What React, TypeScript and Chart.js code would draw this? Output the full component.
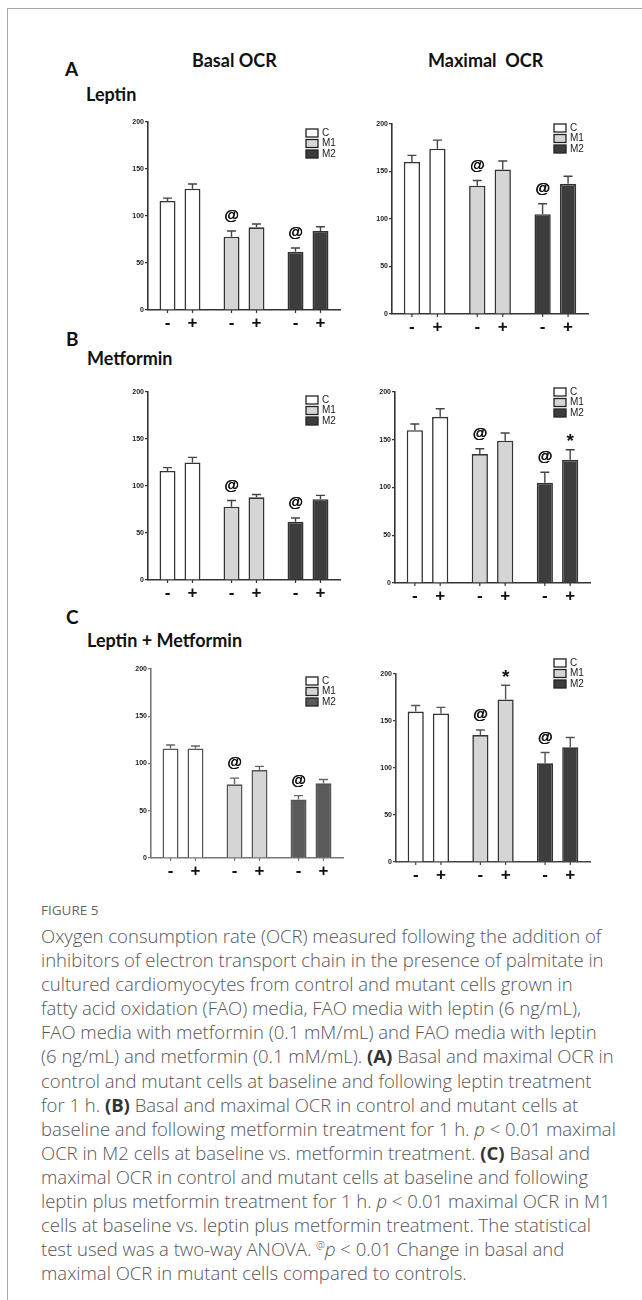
import React, { useEffect, useRef } from 'react';
import { Chart, registerables } from 'chart.js';

Chart.register(...registerables);

// ---------- data ----------
const groups = ['C', 'M1', 'M2'];
const treatments = ['-', '+'];
const yTicks = [0, 50, 100, 150, 200];

// (A) Leptin
const leptinBasalMinus = [116, 78, 62];
const leptinBasalPlus = [129, 88, 84];
const leptinBasalErrMinus = [3, 6, 4];
const leptinBasalErrPlus = [5, 3.5, 4.5];
const leptinMaxMinus = [160, 135, 105];
const leptinMaxPlus = [174, 152, 137];
const leptinMaxErrMinus = [7, 5.5, 11];
const leptinMaxErrPlus = [9, 9, 8];

// (B) Metformin
const metBasalMinus = [116, 78, 62];
const metBasalPlus = [125, 88, 86];
const metBasalErrMinus = [3.5, 6.5, 4];
const metBasalErrPlus = [5.5, 3, 4];
const metMaxMinus = [160, 135, 105];
const metMaxPlus = [174, 149, 129];
const metMaxErrMinus = [6.5, 5.5, 11];
const metMaxErrPlus = [8.5, 8, 10.5];

// (C) Leptin + Metformin
const combBasalMinus = [116, 78, 62];
const combBasalPlus = [116, 93, 79];
const combBasalErrMinus = [3.5, 6.5, 4];
const combBasalErrPlus = [2.5, 4, 4];
const combMaxMinus = [160, 135, 105];
const combMaxPlus = [158, 173, 122];
const combMaxErrMinus = [6.5, 5.5, 11.5];
const combMaxErrPlus = [6.5, 15, 10.5];

// significance marks
const marksMutantVsControl = ['', '@', '@'];
const marksNone = ['', '', ''];
const marksMetMaxPlus = ['', '', '*'];
const marksCombMaxPlus = ['', '*', ''];

// caption
const figureLabel = 'FIGURE 5';

type Geo = { axisX: number; y200: number; y0: number; xEnd: number };

type ChartProps = {
  geo: Geo;
  minus: number[];
  plus: number[];
  errMinus: number[];
  errPlus: number[];
  marksMinus: string[];
  marksPlus: string[];
  colors: string[];
  axisColor: string;
  barBorder: string;
  errColor: string;
  legendDx: number;
  legendDy: number;
};

const PAD_TOP = 20;
const Y_W = 30;
const X_H = 26;
const PAD_R = 2;
const ARIAL = '"Liberation Sans", Arial, sans-serif';

function OcrChart(p: ChartProps) {
  const ref = useRef<HTMLCanvasElement>(null);
  const { geo } = p;
  const width = geo.xEnd - geo.axisX + Y_W + PAD_R;
  const height = geo.y0 - geo.y200 + PAD_TOP + X_H;

  useEffect(() => {
    if (!ref.current) return;
    const decor = {
      id: 'decor',
      afterDatasetsDraw(chart: any) {
        const { ctx, chartArea, scales } = chart;
        const y = scales.y;
        const sets = [
          { vals: p.minus, errs: p.errMinus, marks: p.marksMinus, sign: treatments[0] },
          { vals: p.plus, errs: p.errPlus, marks: p.marksPlus, sign: treatments[1] },
        ];
        ctx.save();
        sets.forEach((s, di) => {
          const meta = chart.getDatasetMeta(di);
          meta.data.forEach((bar: any, i: number) => {
            const cx = bar.x;
            const yTop = y.getPixelForValue(s.vals[i]);
            const yErr = y.getPixelForValue(s.vals[i] + s.errs[i]);
            ctx.strokeStyle = p.errColor;
            ctx.lineWidth = 1.4;
            ctx.beginPath();
            ctx.moveTo(cx, yTop);
            ctx.lineTo(cx, yErr);
            ctx.moveTo(cx - 4.5, yErr);
            ctx.lineTo(cx + 4.5, yErr);
            ctx.stroke();
            if (s.marks[i]) {
              ctx.fillStyle = '#111';
              ctx.textAlign = 'center';
              ctx.textBaseline = 'middle';
              if (s.marks[i] === '*') {
                ctx.font = `bold 19px ${ARIAL}`;
                ctx.fillText(s.marks[i], cx, yErr - 8);
              } else {
                ctx.font = `bold 15px ${ARIAL}`;
                ctx.fillText(s.marks[i], cx, yErr - 15);
                ctx.fillText(s.marks[i], cx + 0.4, yErr - 15);
              }
            }
            ctx.strokeStyle = p.axisColor;
            ctx.lineWidth = 1.2;
            ctx.beginPath();
            ctx.moveTo(cx, chartArea.bottom);
            ctx.lineTo(cx, chartArea.bottom + 3);
            ctx.stroke();
            ctx.fillStyle = '#111';
            ctx.font = `bold 17px ${ARIAL}`;
            ctx.textAlign = 'center';
            ctx.textBaseline = 'middle';
            ctx.fillText(s.sign, cx, chartArea.bottom + 13);
          });
        });
        const lx = chartArea.right + p.legendDx;
        const ly = chartArea.top + p.legendDy;
        groups.forEach((g, i) => {
          const cy = ly + i * 10.5;
          ctx.fillStyle = p.colors[i];
          ctx.fillRect(lx, cy - 4, 12, 8);
          ctx.strokeStyle = '#222';
          ctx.lineWidth = 1.3;
          ctx.strokeRect(lx, cy - 4, 12, 8);
          ctx.fillStyle = '#222';
          ctx.font = `10px ${ARIAL}`;
          ctx.textAlign = 'left';
          ctx.textBaseline = 'middle';
          ctx.fillText(g, lx + 16, cy);
        });
        ctx.restore();
      },
    };

    const chart = new Chart(ref.current, {
      type: 'bar',
      data: {
        labels: groups,
        datasets: [
          {
            label: treatments[0],
            data: p.minus,
            backgroundColor: p.colors,
            borderColor: p.barBorder,
            borderWidth: 1.6,
            categoryPercentage: 0.78,
            barPercentage: 0.64,
          },
          {
            label: treatments[1],
            data: p.plus,
            backgroundColor: p.colors,
            borderColor: p.barBorder,
            borderWidth: 1.6,
            categoryPercentage: 0.78,
            barPercentage: 0.64,
          },
        ],
      },
      options: {
        animation: false,
        responsive: false,
        maintainAspectRatio: false,
        devicePixelRatio: 1,
        layout: { padding: { top: PAD_TOP, left: 0, right: PAD_R, bottom: 0 } },
        plugins: { legend: { display: false }, tooltip: { enabled: false } },
        scales: {
          x: {
            type: 'category',
            offset: true,
            grid: { display: false },
            border: { display: true, color: p.axisColor, width: 1.6 },
            ticks: { display: false },
            afterFit: (s: any) => {
              s.height = X_H;
            },
          },
          y: {
            min: 0,
            max: 200,
            afterBuildTicks: (s: any) => {
              s.ticks = yTicks.map((v) => ({ value: v }));
            },
            grid: {
              display: true,
              drawOnChartArea: false,
              drawTicks: true,
              tickLength: 3,
              tickColor: p.axisColor,
              lineWidth: 1.2,
            },
            border: { display: true, color: p.axisColor, width: 1.6 },
            ticks: {
              font: { size: 7, weight: 'bold', family: ARIAL },
              color: '#222',
              padding: 1,
            },
            afterFit: (s: any) => {
              s.width = Y_W;
            },
          },
        },
      },
      plugins: [decor],
    } as any);
    return () => chart.destroy();
  }, []);

  return (
    <canvas
      ref={ref}
      width={width}
      height={height}
      style={{
        position: 'absolute',
        left: geo.axisX - Y_W,
        top: geo.y200 - PAD_TOP,
        width,
        height,
      }}
    />
  );
}

const headFont = 'Lato, "Open Sans", Arial, sans-serif';
const capFont = '"Open Sans", "Noto Sans", Arial, sans-serif';

function Txt(props: { x: number; y: number; size: number; children: any; weight?: number }) {
  return (
    <div
      style={{
        position: 'absolute',
        left: props.x,
        top: props.y,
        fontFamily: headFont,
        fontWeight: props.weight ?? 700,
        fontSize: props.size,
        lineHeight: 1,
        color: '#111',
        whiteSpace: 'pre',
      }}
    >
      {props.children}
    </div>
  );
}

const B = (s: string) => <b style={{ color: '#333', fontWeight: 700 }}>{s}</b>;
const I = (s: string) => <i>{s}</i>;

const captionLines: any[] = [
  <>Oxygen consumption rate (OCR) measured following the addition of</>,
  <>inhibitors of electron transport chain in the presence of palmitate in</>,
  <>cultured cardiomyocytes from control and mutant cells grown in</>,
  <>fatty acid oxidation (FAO) media, FAO media with leptin (6 ng/mL),</>,
  <>FAO media with metformin (0.1 mM/mL) and FAO media with leptin</>,
  <>(6 ng/mL) and metformin (0.1 mM/mL). {B('(A)')} Basal and maximal OCR in</>,
  <>control and mutant cells at baseline and following leptin treatment</>,
  <>for 1 h. {B('(B)')} Basal and maximal OCR in control and mutant cells at</>,
  <>baseline and following metformin treatment for 1 h. {I('p')} &lt; 0.01 maximal</>,
  <>OCR in M2 cells at baseline vs. metformin treatment. {B('(C)')} Basal and</>,
  <>maximal OCR in control and mutant cells at baseline and following</>,
  <>leptin plus metformin treatment for 1 h. {I('p')} &lt; 0.01 maximal OCR in M1</>,
  <>cells at baseline vs. leptin plus metformin treatment. The statistical</>,
  <>test used was a two-way ANOVA. <sup style={{ fontSize: 10, lineHeight: 0 }}>@</sup>{I('p')} &lt; 0.01 Change in basal and</>,
  <>maximal OCR in mutant cells compared to controls.</>,
];

export default function App() {
  const lightCols = ['#ffffff', '#d5d5d5', '#3d3d3d'];
  const cLeftCols = ['#ffffff', '#d5d5d5', '#5a5a5a'];
  return (
    <div style={{ position: 'absolute', left: 0, top: 0, width: 642, height: 1300, overflow: 'hidden', background: '#fff' }}>
      <div
        style={{
          position: 'absolute',
          left: 7,
          top: 8,
          width: 660,
          height: 1320,
          borderTop: '1px solid #a8a8a8',
          borderLeft: '1px solid #a8a8a8',
        }}
      />
      <Txt x={65} y={59} size={19}>A</Txt>
      <Txt x={192} y={51} size={18}>Basal OCR</Txt>
      <Txt x={428} y={51} size={18}>{'Maximal  OCR'}</Txt>
      <Txt x={86} y={85} size={18}>Leptin</Txt>
      <Txt x={66} y={329} size={19}>B</Txt>
      <Txt x={87} y={349} size={18}>Metformin</Txt>
      <Txt x={66} y={607} size={19}>C</Txt>
      <Txt x={87} y={631} size={18}>Leptin + Metformin</Txt>

      <OcrChart
        geo={{ axisX: 148, y200: 122, y0: 310, xEnd: 340 }}
        minus={leptinBasalMinus} plus={leptinBasalPlus}
        errMinus={leptinBasalErrMinus} errPlus={leptinBasalErrPlus}
        marksMinus={marksMutantVsControl} marksPlus={marksNone}
        colors={lightCols} axisColor="#333" barBorder="#333" errColor="#444"
        legendDx={-34} legendDy={11}
      />
      <OcrChart
        geo={{ axisX: 392, y200: 124, y0: 314, xEnd: 588 }}
        minus={leptinMaxMinus} plus={leptinMaxPlus}
        errMinus={leptinMaxErrMinus} errPlus={leptinMaxErrPlus}
        marksMinus={marksMutantVsControl} marksPlus={marksNone}
        colors={lightCols} axisColor="#333" barBorder="#333" errColor="#444"
        legendDx={-34} legendDy={4}
      />
      <OcrChart
        geo={{ axisX: 148, y200: 392, y0: 580, xEnd: 340 }}
        minus={metBasalMinus} plus={metBasalPlus}
        errMinus={metBasalErrMinus} errPlus={metBasalErrPlus}
        marksMinus={marksMutantVsControl} marksPlus={marksNone}
        colors={lightCols} axisColor="#333" barBorder="#333" errColor="#444"
        legendDx={-34} legendDy={8}
      />
      <OcrChart
        geo={{ axisX: 395, y200: 392, y0: 583, xEnd: 590 }}
        minus={metMaxMinus} plus={metMaxPlus}
        errMinus={metMaxErrMinus} errPlus={metMaxErrPlus}
        marksMinus={marksMutantVsControl} marksPlus={marksMetMaxPlus}
        colors={lightCols} axisColor="#333" barBorder="#333" errColor="#444"
        legendDx={-36} legendDy={0}
      />
      <OcrChart
        geo={{ axisX: 151, y200: 669, y0: 858, xEnd: 343 }}
        minus={combBasalMinus} plus={combBasalPlus}
        errMinus={combBasalErrMinus} errPlus={combBasalErrPlus}
        marksMinus={marksMutantVsControl} marksPlus={marksNone}
        colors={cLeftCols} axisColor="#777" barBorder="#555" errColor="#666"
        legendDx={-37} legendDy={12}
      />
      <OcrChart
        geo={{ axisX: 396, y200: 674, y0: 862, xEnd: 590 }}
        minus={combMaxMinus} plus={combMaxPlus}
        errMinus={combMaxErrMinus} errPlus={combMaxErrPlus}
        marksMinus={marksMutantVsControl} marksPlus={marksCombMaxPlus}
        colors={lightCols} axisColor="#444" barBorder="#333" errColor="#555"
        legendDx={-36} legendDy={-11}
      />

      <div
        style={{
          position: 'absolute',
          left: 41,
          top: 902,
          fontFamily: capFont,
          fontSize: 13.5,
          color: '#666',
          lineHeight: '16px',
        }}
      >
        {figureLabel}
      </div>
      <div
        style={{
          position: 'absolute',
          left: 41,
          top: 924,
          fontFamily: capFont,
          fontSize: 18.5,
          color: '#555',
          lineHeight: '24.1px',
          fontWeight: 300,
        }}
      >
        {captionLines.map((l, i) => (
          <div key={i} style={{ whiteSpace: 'nowrap' }}>
            {l}
          </div>
        ))}
      </div>
    </div>
  );
}
